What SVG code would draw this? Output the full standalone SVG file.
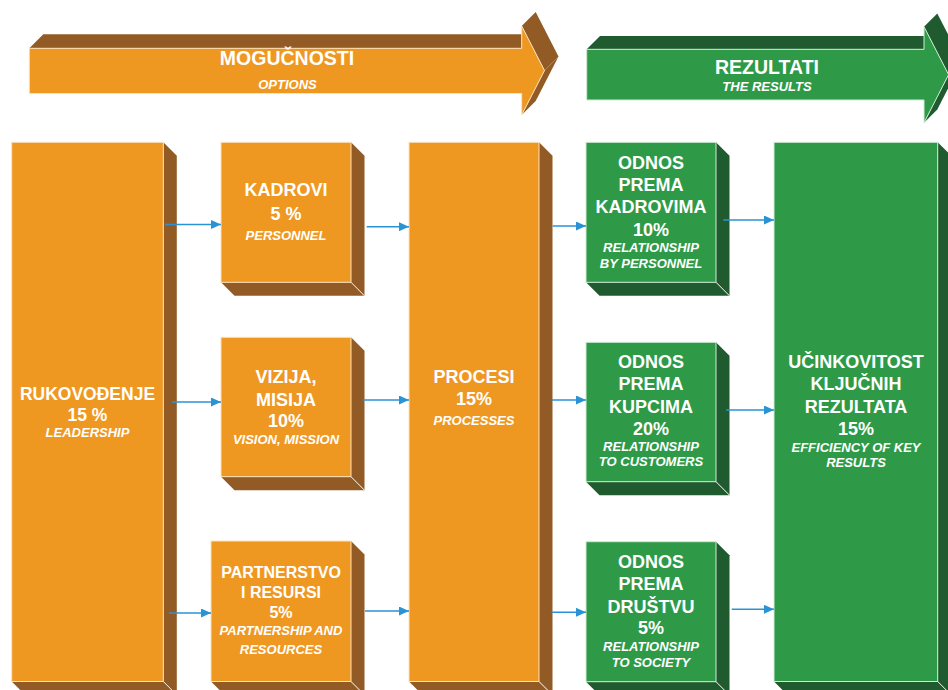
<svg xmlns="http://www.w3.org/2000/svg" width="948" height="690" viewBox="0 0 948 690">
<defs>
<marker id="ah" markerUnits="userSpaceOnUse" markerWidth="10" markerHeight="9" refX="10" refY="4.5" orient="auto">
<path d="M0,0 L10,4.5 L0,9 Z" fill="#2A93D5"/>
</marker>
<style>
.of{fill:#EF9821;stroke:#FBE2BE;stroke-width:1}
.ob{fill:#925B25}
.gf{fill:#2E9A47;stroke:#CFEBD5;stroke-width:1}
.gb{fill:#1F5B2F}
.ed{stroke:#F4F1EA;stroke-width:1}
.t{font-family:"Liberation Sans",Arial,sans-serif;font-weight:bold;fill:#FFFFFF;text-anchor:middle;font-size:18px}
.s{font-size:16px}
.l{font-size:17.5px}
.h{font-size:19.5px}
.i{font-style:italic;font-size:13px}
.c{stroke:#2A93D5;stroke-width:1.5;fill:none;marker-end:url(#ah)}
</style>
</defs>
<rect width="948" height="690" fill="#FFFFFF"/>

<g id="arrow-options">
<polygon class="ob" points="29.3,48.3 43.3,34.3 521.7,34.3 521.7,48.3"/>
<polygon class="ob" points="521.7,26 535.7,12 558.5,56.5 544.5,70.5"/>
<polygon class="ob" points="544.5,70.5 558.5,56.5 535.7,101 521.7,115"/>
<polygon class="of" points="29.3,48.3 521.7,48.3 521.7,26 544.5,70.5 521.7,115 521.7,93.5 29.3,93.5"/>
<text class="t h" x="287" y="65">MOGUČNOSTI</text>
<text class="t i" x="287.5" y="89">OPTIONS</text>
</g>

<g id="arrow-results">
<polygon class="gb" points="586.7,49.3 600,36 924,36 924,49.3"/>
<polygon class="gb" points="924,26.7 937.3,13.4 962,61.4 948.6,74.7"/>
<polygon class="gb" points="948.6,74.7 962,61.4 937.3,109.4 924,122.7"/>
<polygon class="gf" points="586.7,49.3 924,49.3 924,26.7 948.6,74.7 924,122.7 924,100 586.7,100"/>
<text class="t h" x="767" y="73.7">REZULTATI</text>
<text class="t i" x="767" y="90.7">THE RESULTS</text>
</g>

<g id="leadership">
<polygon class="ob" points="163.3,142.3 176.8,155.8 176.8,695 163.3,681.5"/>
<polygon class="ob" points="11.7,681.5 163.3,681.5 176.8,695 25.2,695"/>
<line class="ed" x1="163.3" y1="681.5" x2="176.8" y2="695"/>
<rect class="of" x="11.7" y="142.3" width="151.6" height="539.2"/>
<text class="t l" x="87.5" y="400">RUKOVOĐENJE</text>
<text class="t l" x="87.5" y="421">15 %</text>
<text class="t i" x="87.5" y="436.5">LEADERSHIP</text>
</g>

<g id="personnel">
<polygon class="ob" points="351,142.3 364.5,155.8 364.5,295.8 351,282.3"/>
<polygon class="ob" points="221,282.3 351,282.3 364.5,295.8 234.5,295.8"/>
<line class="ed" x1="351" y1="282.3" x2="364.5" y2="295.8"/>
<rect class="of" x="221" y="142.3" width="130" height="140"/>
<text class="t" x="286" y="195.7">KADROVI</text>
<text class="t" x="286" y="219.7">5 %</text>
<text class="t i" x="286" y="240.4">PERSONNEL</text>
</g>

<g id="vision">
<polygon class="ob" points="351,337.3 364.5,350.8 364.5,490.2 351,476.7"/>
<polygon class="ob" points="221,476.7 351,476.7 364.5,490.2 234.5,490.2"/>
<line class="ed" x1="351" y1="476.7" x2="364.5" y2="490.2"/>
<rect class="of" x="221" y="337.3" width="130" height="139.4"/>
<text class="t" x="286" y="383">VIZIJA,</text>
<text class="t" x="286" y="405.5">MISIJA</text>
<text class="t" x="286" y="426.5">10%</text>
<text class="t i" x="286" y="443.7">VISION, MISSION</text>
</g>

<g id="partnership">
<polygon class="ob" points="351,541 364.5,554.5 364.5,695 351,681.5"/>
<polygon class="ob" points="211,681.5 351,681.5 364.5,695 224.5,695"/>
<line class="ed" x1="351" y1="681.5" x2="364.5" y2="695"/>
<rect class="of" x="211" y="541" width="140" height="140.5"/>
<text class="t s" x="281" y="578">PARTNERSTVO</text>
<text class="t s" x="281" y="598.4">I RESURSI</text>
<text class="t s" x="281" y="618.4">5%</text>
<text class="t i" x="281" y="634.6">PARTNERSHIP AND</text>
<text class="t i" x="281" y="653.6">RESOURCES</text>
</g>

<g id="processes">
<polygon class="ob" points="539,142.3 552.5,155.8 552.5,695 539,681.5"/>
<polygon class="ob" points="409,681.5 539,681.5 552.5,695 422.5,695"/>
<line class="ed" x1="539" y1="681.5" x2="552.5" y2="695"/>
<rect class="of" x="409" y="142.3" width="130" height="539.2"/>
<text class="t" x="474" y="382.5">PROCESI</text>
<text class="t" x="474" y="404.8">15%</text>
<text class="t i" x="474" y="425.4">PROCESSES</text>
</g>

<g id="rel-personnel">
<polygon class="gb" points="716,142.3 729.5,155.8 729.5,295.8 716,282.3"/>
<polygon class="gb" points="586,282.3 716,282.3 729.5,295.8 599.5,295.8"/>
<line class="ed" x1="716" y1="282.3" x2="729.5" y2="295.8"/>
<rect class="gf" x="586" y="142.3" width="130" height="140"/>
<text class="t" x="651" y="168.8">ODNOS</text>
<text class="t" x="651" y="190.8">PREMA</text>
<text class="t" x="651" y="213.2">KADROVIMA</text>
<text class="t" x="651" y="235.5">10%</text>
<text class="t i" x="651" y="252">RELATIONSHIP</text>
<text class="t i" x="651" y="268">BY PERSONNEL</text>
</g>

<g id="rel-customers">
<polygon class="gb" points="716,342.3 729.5,355.8 729.5,495.2 716,481.7"/>
<polygon class="gb" points="586,481.7 716,481.7 729.5,495.2 599.5,495.2"/>
<line class="ed" x1="716" y1="481.7" x2="729.5" y2="495.2"/>
<rect class="gf" x="586" y="342.3" width="130" height="139.4"/>
<text class="t" x="651" y="368">ODNOS</text>
<text class="t" x="651" y="389.5">PREMA</text>
<text class="t" x="651" y="412.5">KUPCIMA</text>
<text class="t" x="651" y="434.5">20%</text>
<text class="t i" x="651" y="451.3">RELATIONSHIP</text>
<text class="t i" x="651" y="466.3">TO CUSTOMERS</text>
</g>

<g id="rel-society">
<polygon class="gb" points="716,541.7 729.5,555.2 729.5,695.2 716,681.7"/>
<polygon class="gb" points="586,681.7 716,681.7 729.5,695.2 599.5,695.2"/>
<line class="ed" x1="716" y1="681.7" x2="729.5" y2="695.2"/>
<rect class="gf" x="586" y="541.7" width="130" height="140"/>
<text class="t" x="651" y="568">ODNOS</text>
<text class="t" x="651" y="589.5">PREMA</text>
<text class="t" x="651" y="612.5">DRUŠTVU</text>
<text class="t" x="651" y="633.8">5%</text>
<text class="t i" x="651" y="650.6">RELATIONSHIP</text>
<text class="t i" x="651" y="667">TO SOCIETY</text>
</g>

<g id="key-results">
<polygon class="gb" points="937.7,142.3 951.2,155.8 951.2,695 937.7,681.5"/>
<polygon class="gb" points="774,681.5 937.7,681.5 951.2,695 787.5,695"/>
<line class="ed" x1="937.7" y1="681.5" x2="951.2" y2="695"/>
<rect class="gf" x="774" y="142.3" width="163.7" height="539.2"/>
<text class="t" x="856" y="368">UČINKOVITOST</text>
<text class="t" x="856" y="389.5">KLJUČNIH</text>
<text class="t" x="856" y="412.5">REZULTATA</text>
<text class="t" x="856" y="434.5">15%</text>
<text class="t i" x="856" y="451.6">EFFICIENCY OF KEY</text>
<text class="t i" x="856" y="466.6">RESULTS</text>
</g>

<g id="connectors">
<line class="c" x1="165" y1="224.5" x2="221" y2="224.5"/>
<line class="c" x1="172" y1="402" x2="221" y2="402"/>
<line class="c" x1="169" y1="613" x2="211" y2="613"/>
<line class="c" x1="366.7" y1="226.7" x2="409" y2="226.7"/>
<line class="c" x1="362.7" y1="400" x2="409" y2="400"/>
<line class="c" x1="365" y1="611" x2="409" y2="611"/>
<line class="c" x1="552.7" y1="226" x2="586" y2="226"/>
<line class="c" x1="552" y1="400" x2="586" y2="400"/>
<line class="c" x1="551.7" y1="612.3" x2="586" y2="612.3"/>
<line class="c" x1="723.3" y1="220" x2="774" y2="220"/>
<line class="c" x1="726" y1="410" x2="774" y2="410"/>
<line class="c" x1="731.7" y1="609.3" x2="774" y2="609.3"/>
</g>
</svg>
